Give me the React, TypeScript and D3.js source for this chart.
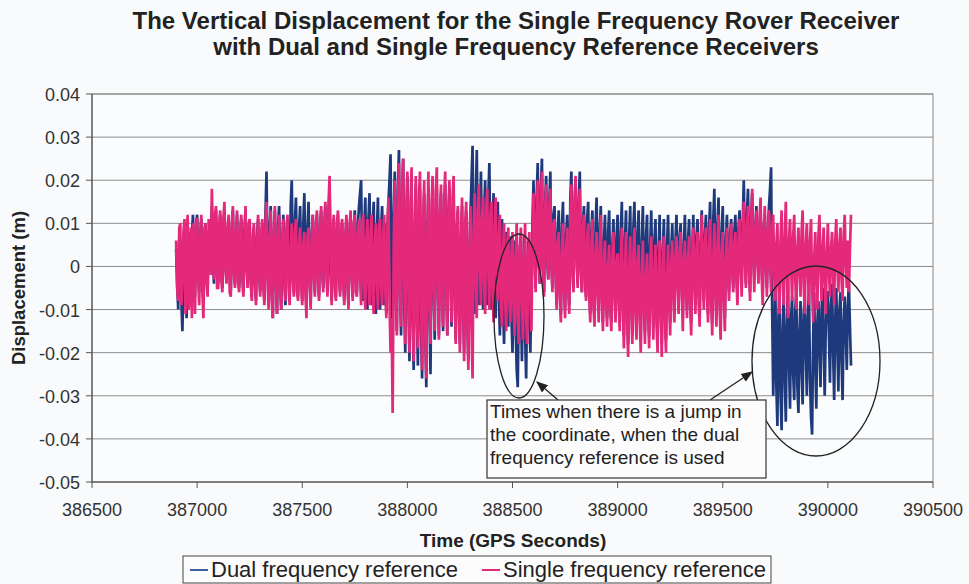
import React from 'react';
import * as d3 from 'd3';

// GPS epochs: one sample every STEP_SECONDS starting at START_TIME
const START_TIME = 386900;
const STEP_SECONDS = 5;

// Vertical displacement (mm) of the single frequency rover, dual frequency reference
const dualFrequencyMm = [
  4, -4, -10, 2, 6, -8, -15, -3, 5, -6, -12, 3, 8, -2, -9, 7, 12, 0, -7, 9,
  12, 1, -6, 7, 11, -2, -8, 5, 10, -1, -5, 8, 9, 4, 14, 2, -4, 9, 13, -2,
  -4, 6, 12, -1, -5, 9, 13, 0, -3, 7, 11, -2, -6, 8, 13, 1, -4, 6, 12, -1,
  -5, 5, 11, -2, -6, 8, 13, 0, -4, 6, 10, -3, -7, 5, 9, -4, -8, 7, 11, -2,
  -6, 6, 10, -3, -8, 12, 22, 1, -9, 9, 14, -5, -12, 7, 13, -4, -11, 9, 14, -3,
  -10, 5, 12, -3, -9, 7, 11, 2, -8, 14, 20, 3, -6, 10, 16, 1, -7, 9, 14, -2,
  -8, 10, 17, 0, -10, 9, 15, -2, -9, 7, 12, -1, -6, 8, 12, 0, -7, 9, 13, -1,
  -5, 8, 14, 1, -6, 12, 18, -2, -8, 6, 11, -3, -7, 8, 12, 0, -6, 7, 10, -2,
  -8, 6, 11, -3, -9, 8, 12, -1, -7, 9, 13, 0, -6, 10, 14, 17, 20, 1, -8, 9,
  16, 0, -10, 11, 17, -2, -9, 10, 15, -4, -11, 8, 16, -3, -10, 9, 14, -1, -9, 10,
  -11, 8, 15, 20, 26, -5, -18, 12, 22, -6, -15, 18, 27, -4, -16, 16, 25, -8, -20, 10,
  21, -8, -22, 9, 20, -12, -24, 6, 19, -10, -23, 8, 18, -14, -26, 5, 17, -15, -28, 7,
  18, -11, -25, 6, 20, -5, -17, 10, 18, -4, -16, 9, 17, -6, -15, 11, 19, -3, -16, 12,
  18, -2, -14, 10, 17, -6, -17, 7, 13, -9, -18, 5, 14, -10, -20, 4, 13, -12, -22, 3,
  12, 20, 28, 5, -11, 14, 27, 6, -9, 12, 22, 2, -10, 13, 20, 1, -9, 16, 24, 0,
  -10, 9, 17, -1, -12, 8, 15, -6, -16, 4, 11, -10, -18, 2, 8, -8, -14, 1, 7, -12,
  -20, -4, 6, -14, -24, -28, -8, 5, -10, -22, -3, 7, -16, -26, -5, 6, -12, -20, -2, 10,
  20, 3, -5, 16, 24, 1, -4, 18, 25, 0, -6, 14, 21, 2, -3, 15, 22, 1, -5, 12,
  14, -1, -9, 8, 13, -4, -11, 9, 15, -3, -10, 7, 12, -2, -9, 16, 22, 0, -5, 14,
  20, 3, -4, 15, 22, 0, -6, 10, 14, -2, -7, 11, 15, -5, -11, 8, 13, -6, -12, 9,
  16, -3, -11, 9, 14, -5, -13, 6, 12, -4, -12, 8, 13, -6, -13, 5, 11, -3, -11, 7,
  12, -5, -13, 8, 15, -7, -16, 6, 13, -9, -18, 7, 14, -6, -16, 9, 15, -5, -15, 8,
  13, -8, -17, 6, 14, -5, -15, 7, 12, -7, -16, 5, 13, -4, -14, 6, 11, -9, -17, 4,
  12, -9, -18, 3, 11, -8, -17, 5, 12, -4, -13, 4, 10, -3, -11, 6, 12, -1, -9, 7,
  10, -4, -12, 5, 12, -2, -10, 6, 11, -5, -13, 4, 12, -1, -9, 7, 11, -4, -12, 5,
  13, 0, -8, 7, 12, -3, -11, 9, 15, -5, -13, 11, 18, -2, -12, 10, 16, -6, -14, 8,
  14, -3, -12, 6, 12, 1, -6, 7, 11, 2, -5, 8, 12, 0, -7, 9, 13, 1, -5, 10,
  20, 4, -4, 12, 18, 2, -6, 11, 17, 3, -3, 9, 14, 4, -2, 8, 13, 1, -6, 9,
  12, 0, -5, 8, 14, 18, 23, -10, -30, -18, -4, -28, -37, -12, -5, -30, -38, -15, -6, -26,
  -36, -14, -4, -22, -33, -12, -7, -25, -31, -10, -6, -28, -34, -15, -8, -24, -32, -11, -7, -20,
  -30, -12, -5, -26, -35, -39, -16, -6, -22, -33, -13, -8, -19, -28, -10, -5, -18, -30, -14, -6,
  -6, -16, -27, -9, -4, -20, -31, -12, -5, -18, -29, -10, -6, -22, -31, -13, -7, -15, -24, -9,
  -4, -14, -23,
];

// Vertical displacement (mm) of the single frequency rover, single frequency reference
const singleFrequencyMm = [
  6, -5, -8, 9, 10, -9, -4, 8, 11, -11, 7, 12, -10, -6, 9, -12, 10, 3, -11, 11,
  11, -3, -9, 8, 12, -6, -12, 9, 10, -4, -7, 11, 8, -2, 18, 6, -3, 12, 14, -5,
  -5, 10, 13, -3, -6, 11, 15, -1, -4, 9, 12, -6, -7, 10, 14, -2, -5, 8, 13, -4,
  -6, 9, 12, -2, -7, 6, 14, 0, -5, 10, 11, -4, -8, 7, 10, -3, -9, 5, 12, -1,
  -7, 8, 11, -5, -9, 10, 15, -3, -10, 6, 13, -8, -12, 9, 14, -4, -11, 7, 12, -6,
  -10, 6, 11, -2, -8, 9, 12, -5, -9, 4, 10, -3, -7, 8, 11, -6, -8, 5, 9, -4,
  -9, 5, 8, -6, -12, 7, 9, -3, -10, 6, 12, -2, -7, 10, 13, -4, -8, 9, 14, -1,
  -6, 11, 15, -2, -7, 14, 21, 3, -9, 8, 12, -5, -8, 10, 13, -3, -7, 9, 11, -4,
  -9, 7, 12, -4, -10, 9, 13, -2, -8, 10, 12, -6, -7, 8, 11, -3, -9, 10, 12, -5,
  -10, 6, 11, -4, -9, 8, 12, -7, -11, 5, 10, -3, -10, 9, 11, -5, -9, 7, 12, -6,
  -12, 9, 16, -8, -20, -12, -34, 5, 20, -4, -16, 14, 24, -6, -14, 19, 25, -3, -18, 12,
  22, -5, -20, 15, 23, -10, -22, 8, 21, -12, -19, 16, 22, -9, -24, 10, 20, -15, -26, 6,
  22, -8, -18, 14, 21, -6, -15, 17, 23, -4, -17, 12, 19, -9, -14, 15, 22, -5, -16, 11,
  20, -3, -13, 16, 21, -7, -18, 9, 14, -11, -20, 6, 16, -8, -22, 10, 15, -12, -24, 4,
  14, -14, -26, 8, 17, -2, -12, 13, 19, 0, -9, 11, 16, -4, -11, 14, 18, -1, -10, 12,
  15, -6, -13, 9, 16, -1, -8, 7, 12, -9, -14, 4, 10, -7, -15, 5, 9, -8, -13, 3,
  8, -9, -16, 2, 10, -11, -18, 4, 9, -8, -17, 1, 10, -12, -18, 3, 8, -7, -15, 6,
  17, 4, -6, 12, 20, 2, -4, 15, 22, 1, -7, 13, 19, 3, -3, 14, 18, 0, -6, 10,
  11, -2, -10, 5, 8, -7, -13, 3, 10, -5, -12, 4, 9, -6, -11, 12, 19, -1, -6, 15,
  21, 2, -5, 13, 18, -1, -6, 9, 12, -4, -8, 6, 10, -7, -13, 5, 11, -9, -14, 3,
  8, -6, -13, 4, 12, -8, -15, 1, 6, -9, -14, 0, 5, -10, -15, 2, 8, -7, -13, 1,
  3, -8, -15, 2, 9, -10, -19, 0, 8, -12, -21, -1, 7, -9, -18, 3, 9, -11, -17, 1,
  5, -12, -20, -2, 6, -9, -18, -3, 3, -11, -19, 0, 7, -8, -17, -2, 5, -13, -20, -1,
  6, -10, -21, 0, 7, -12, -20, -3, 5, -8, -16, 1, 6, -7, -13, 2, 7, -4, -11, 3,
  8, -5, -15, 1, 6, -6, -12, 2, 7, -9, -16, 3, 9, -4, -11, 4, 8, -7, -14, 2,
  12, -3, -10, 5, 9, -6, -13, 4, 11, -8, -16, 2, 10, -6, -14, 5, 12, -9, -17, 3,
  8, -7, -15, 1, 9, -2, -8, 4, 10, -1, -6, 5, 8, -3, -9, 6, 11, 0, -7, 7,
  15, 2, -5, 9, 14, -1, -8, 10, 18, 3, -6, 8, 13, 1, -4, 11, 16, -2, -9, 8,
  14, 1, -7, 8, 13, 0, -6, 9, 12, -2, -8, 5, 10, -4, -11, 6, 13, -3, -9, 7,
  15, -2, -12, 6, 11, 0, -8, 7, 12, -3, -10, 4, 9, -1, -7, 8, 13, -4, -11, 5,
  10, -1, -9, 6, 11, -5, -13, 2, 8, -3, -10, 7, 12, 0, -8, 4, 9, -4, -11, 3,
  10, -1, -7, 4, 8, -2, -9, 6, 11, 0, -6, 5, 9, -3, -8, 7, 12, 1, -5, 6,
  -6, 4, 12,
];

const xTicks = [386500, 387000, 387500, 388000, 388500, 389000, 389500, 390000, 390500];
const yTicks = [0.04, 0.03, 0.02, 0.01, 0, -0.01, -0.02, -0.03, -0.04, -0.05];

const titleLines = [
  'The Vertical Displacement for the Single Frequency Rover Receiver',
  'with Dual and Single Frequency Reference Receivers',
];
const noteLines = [
  'Times when there is a jump in',
  'the coordinate, when the dual',
  'frequency reference is used',
];
const seriesNames = ['Dual frequency reference', 'Single frequency reference'];

const DUAL_COLOR = '#1f3a7c';
const SINGLE_COLOR = '#e4287a';
const FONT = "'Liberation Sans', Arial, sans-serif";
const NARROW = "'Liberation Sans Narrow', 'Liberation Sans', Arial, sans-serif";

export default function App() {
  const W = 969;
  const H = 584;
  const left = 92, right = 933, top = 94, bottom = 482;

  const x = d3.scaleLinear().domain([386500, 390500]).range([left, right]);
  const y = d3.scaleLinear().domain([-0.05, 0.04]).range([bottom, top]);

  const line = d3
    .line<number>()
    .x((_, i) => x(START_TIME + i * STEP_SECONDS))
    .y((d) => y(d / 1000));

  const fmtY = (v: number) => (Math.abs(v) < 1e-9 ? '0' : v.toFixed(2));

  return (
    <svg
      width={W}
      height={H}
      viewBox={`0 0 ${W} ${H}`}
      style={{ position: 'absolute', left: 0, top: 0, display: 'block', background: '#f9fafb' }}
    >
      <defs>
        <marker id="arrowHead" viewBox="0 0 10 10" refX="9" refY="5" markerWidth="9" markerHeight="9" orient="auto">
          <path d="M0,1 L10,5 L0,9 Z" fill="#222" />
        </marker>
      </defs>

      {/* title */}
      {titleLines.map((t, i) => (
        <text
          key={t}
          x={516}
          y={29 + i * 26}
          textAnchor="middle"
          fontFamily={NARROW}
          fontWeight="bold"
          fontSize={24}
          fill="#222"
        >
          {t}
        </text>
      ))}

      {/* plot area */}
      <rect x={left} y={top} width={right - left} height={bottom - top} fill="#fbfcfd" stroke="#888" strokeWidth={1} />

      {/* horizontal gridlines */}
      {yTicks.map((v) => (
        <line key={v} x1={left} x2={right} y1={y(v)} y2={y(v)} stroke="#8c8c8c" strokeWidth={1} />
      ))}

      {/* data series */}
      <path d={line(dualFrequencyMm) || ''} fill="none" stroke={DUAL_COLOR} strokeWidth={2.7} strokeLinejoin="miter" strokeMiterlimit={2} />
      <path d={line(singleFrequencyMm) || ''} fill="none" stroke={SINGLE_COLOR} strokeWidth={2.7} strokeLinejoin="miter" strokeMiterlimit={2} />

      {/* axes */}
      <line x1={left} x2={left} y1={top} y2={bottom} stroke="#555" strokeWidth={1.2} />
      <line x1={left} x2={right} y1={bottom} y2={bottom} stroke="#555" strokeWidth={1.2} />
      {yTicks.map((v) => (
        <g key={`yt${v}`}>
          <line x1={left - 6} x2={left} y1={y(v)} y2={y(v)} stroke="#555" />
          <text x={80} y={y(v) + 7} textAnchor="end" fontFamily={FONT} fontSize={18} fill="#333">
            {fmtY(v)}
          </text>
        </g>
      ))}
      {xTicks.map((v) => (
        <g key={`xt${v}`}>
          <line x1={x(v)} x2={x(v)} y1={bottom} y2={bottom + 6} stroke="#555" />
          <text x={x(v)} y={516} textAnchor="middle" fontFamily={FONT} fontSize={18} fill="#333">
            {v}
          </text>
        </g>
      ))}

      {/* axis titles */}
      <text x={513} y={547} textAnchor="middle" fontFamily={NARROW} fontWeight="bold" fontSize={19} fill="#222">
        Time (GPS Seconds)
      </text>
      <text
        transform="translate(25,288) rotate(-90)"
        textAnchor="middle"
        fontFamily={NARROW}
        fontWeight="bold"
        fontSize={18.5}
        fill="#222"
      >
        Displacement (m)
      </text>

      {/* highlighted jumps */}
      <ellipse cx={519} cy={316} rx={25} ry={82} fill="none" stroke="#222" strokeWidth={1.3} />
      <ellipse cx={816} cy={361} rx={64} ry={95} fill="none" stroke="#222" strokeWidth={1.3} />
      <line x1={558} y1={400} x2={537} y2={382} stroke="#222" strokeWidth={1.3} markerEnd="url(#arrowHead)" />
      <line x1={710} y1={400} x2={752} y2={372} stroke="#222" strokeWidth={1.3} markerEnd="url(#arrowHead)" />

      {/* annotation box */}
      <rect x={487} y={400} width={279} height={78} fill="#fcfcfc" stroke="#333" strokeWidth={1.2} />
      {noteLines.map((t, i) => (
        <text key={t} x={490} y={418 + i * 23} fontFamily={FONT} fontSize={19} fill="#222">
          {t}
        </text>
      ))}

      {/* legend */}
      <rect x={183} y={556} width={588} height={27} fill="#fcfcfc" stroke="#444" strokeWidth={1} />
      <line x1={190} x2={208} y1={570} y2={570} stroke="#3f5d9e" strokeWidth={2} />
      <text x={211} y={577} fontFamily={FONT} fontSize={22} fill="#222">
        {seriesNames[0]}
      </text>
      <line x1={482} x2={500} y1={570} y2={570} stroke={SINGLE_COLOR} strokeWidth={2} />
      <text x={503} y={577} fontFamily={FONT} fontSize={22} fill="#222">
        {seriesNames[1]}
      </text>
    </svg>
  );
}
